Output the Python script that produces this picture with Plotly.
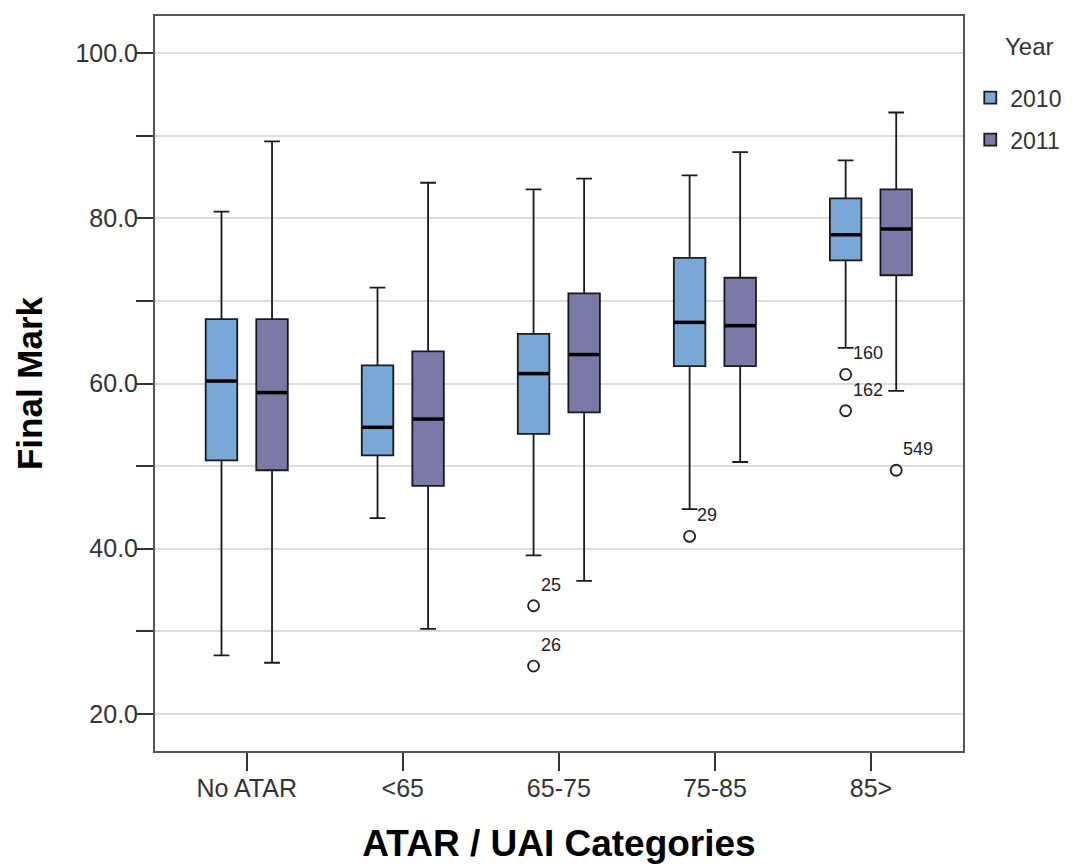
import plotly.graph_objects as go

# ---------------- data ----------------
categories = ["No ATAR", "<65", "65-75", "75-85", "85>"]
years = ["2010", "2011"]

q1_2010 = [50.7, 51.3, 53.9, 62.1, 74.9]
median_2010 = [60.3, 54.7, 61.2, 67.4, 78.0]
q3_2010 = [67.8, 62.2, 66.0, 75.2, 82.4]
lower_2010 = [27.1, 43.7, 39.2, 44.8, 64.3]
upper_2010 = [80.8, 71.6, 83.5, 85.2, 87.0]

q1_2011 = [49.5, 47.6, 56.5, 62.1, 73.1]
median_2011 = [58.9, 55.7, 63.5, 67.0, 78.7]
q3_2011 = [67.8, 63.9, 70.9, 72.8, 83.5]
lower_2011 = [26.2, 30.3, 36.1, 50.5, 59.1]
upper_2011 = [89.3, 84.3, 84.8, 88.0, 92.8]

outlier_cat_2010 = ["65-75", "65-75", "75-85", "85>", "85>"]
outlier_val_2010 = [33.1, 25.8, 41.5, 61.1, 56.7]
outlier_id_2010 = ["25", "26", "29", "160", "162"]

outlier_cat_2011 = ["85>"]
outlier_val_2011 = [49.5]
outlier_id_2011 = ["549"]

y_ticks = [20, 30, 40, 50, 60, 70, 80, 90, 100]

# ---------------- style ----------------
fill_colors = {"2010": "#79A8D6", "2011": "#7B79A8"}
offsets = {"2010": -0.162, "2011": 0.162}
BOX_WIDTH = 0.202
FONT = "Liberation Sans, Arial, sans-serif"

series = {
    "2010": dict(q1=q1_2010, median=median_2010, q3=q3_2010, lo=lower_2010, hi=upper_2010,
                 ocat=outlier_cat_2010, oval=outlier_val_2010, oid=outlier_id_2010),
    "2011": dict(q1=q1_2011, median=median_2011, q3=q3_2011, lo=lower_2011, hi=upper_2011,
                 ocat=outlier_cat_2011, oval=outlier_val_2011, oid=outlier_id_2011),
}

fig = go.Figure()
annotations = []

for yr in years:
    s = series[yr]
    xs = [i + offsets[yr] for i in range(len(categories))]
    fig.add_trace(go.Box(
        x=xs, q1=s["q1"], median=s["median"], q3=s["q3"],
        lowerfence=s["lo"], upperfence=s["hi"],
        name=yr, legendgroup=yr, width=BOX_WIDTH, whiskerwidth=0.5,
        fillcolor=fill_colors[yr],
        line=dict(color="#1a1a1a", width=1.8),
        boxpoints=False, hoverinfo="skip",
    ))

for yr in years:
    s = series[yr]
    xs = [i + offsets[yr] for i in range(len(categories))]
    # thick median lines
    fig.add_trace(go.Scatter(
        x=xs, y=s["median"], mode="markers", showlegend=False, hoverinfo="skip",
        marker=dict(symbol="line-ew", size=21.5, color="black",
                    line=dict(color="black", width=3.5)),
    ))
    # outliers
    ox = [categories.index(c) + offsets[yr] for c in s["ocat"]]
    fig.add_trace(go.Scatter(
        x=ox, y=s["oval"], mode="markers", showlegend=False, hoverinfo="skip",
        marker=dict(symbol="circle-open", size=11, color="#222",
                    line=dict(color="#222", width=1.8)),
    ))
    for x, y, lab in zip(ox, s["oval"], s["oid"]):
        annotations.append(dict(
            x=x, y=y, xref="x", yref="y", text=lab, showarrow=False,
            xanchor="left", yanchor="bottom", xshift=5, yshift=9,
            font=dict(family=FONT, size=18, color="#222"),
        ))

# legend title as annotation
annotations.append(dict(
    x=1.082, y=0.958, xref="paper", yref="paper", text="Year", showarrow=False,
    xanchor="center", yanchor="middle",
    font=dict(family=FONT, size=24, color="#333"),
))

# page body adds an 8px margin, so the figure is 8px smaller than the window
fig.update_layout(
    width=1066, height=856, autosize=False,
    template="none",
    margin=dict(l=147, r=111, t=8, b=113, autoexpand=False),
    paper_bgcolor="white", plot_bgcolor="white",
    font=dict(family=FONT, color="#333"),
    boxmode="overlay",
    showlegend=True,
    legend=dict(
        x=1.009, y=0.918, xanchor="left", yanchor="top",
        font=dict(family=FONT, size=23, color="#333"),
        bgcolor="rgba(0,0,0,0)", tracegroupgap=9, itemwidth=30,
    ),
    annotations=annotations,
)

fig.update_xaxes(
    range=[-0.588, 4.59], automargin=False,
    tickmode="array", tickvals=list(range(len(categories))), ticktext=categories,
    ticks="outside", ticklen=18, tickwidth=2, tickcolor="#333",
    ticklabelstandoff=-4,
    showline=True, linecolor="#555", linewidth=2, mirror=True,
    showgrid=False, zeroline=False,
    tickfont=dict(family=FONT, size=25, color="#333"),
    title=dict(text="<b>ATAR / UAI Categories</b>", standoff=30,
               font=dict(family=FONT, size=37, color="black")),
)

fig.update_yaxes(
    range=[15.52, 104.48], automargin=False,
    tickmode="array", tickvals=y_ticks,
    ticktext=[f"{v:.1f}" if v % 20 == 0 else "" for v in y_ticks],
    ticks="outside", ticklen=17, tickwidth=2, tickcolor="#333",
    ticklabelstandoff=-7,
    showline=True, linecolor="#555", linewidth=2, mirror=True,
    showgrid=True, gridcolor="#dcdcdc", gridwidth=1.5, zeroline=False,
    tickfont=dict(family=FONT, size=25, color="#333"),
    title=dict(text="<b>Final Mark</b>", standoff=22,
               font=dict(family=FONT, size=35, color="black")),
)

fig.write_html("out.html")
